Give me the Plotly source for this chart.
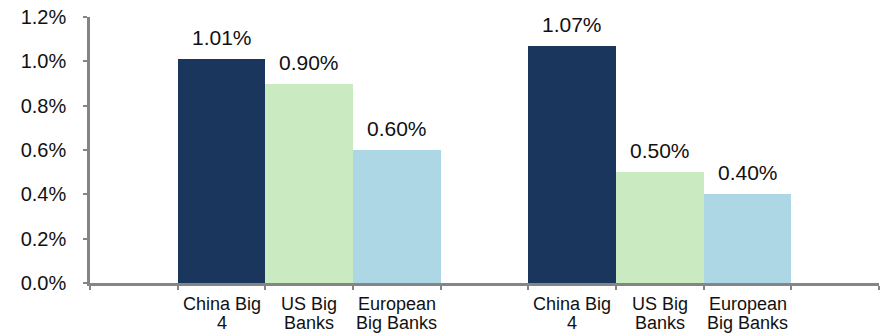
import plotly.graph_objects as go

# Two peer groups of banks, three bars each
label_line1 = ["China Big", "US Big", "European"]
label_line2 = ["4", "Banks", "Big Banks"]
group_a = [1.01, 0.90, 0.60]
group_b = [1.07, 0.50, 0.40]
colors = ["#1B365D", "#CAEAC1", "#ADD7E5"]

y_ticks = [0.0, 0.2, 0.4, 0.6, 0.8, 1.0, 1.2]
y_ticktext = [f"{v:.1f}%" for v in y_ticks]

# Slot positions on a 9-slot axis: an empty slot before, between and after the groups
slots_a = [1.5, 2.5, 3.5]
slots_b = [5.5, 6.5, 7.5]

fig = go.Figure()
for i in range(3):
    fig.add_trace(go.Bar(
        x=[slots_a[i], slots_b[i]],
        y=[group_a[i], group_b[i]],
        width=1.0,
        marker=dict(color=colors[i], line=dict(width=0)),
        showlegend=False,
        hoverinfo="skip",
    ))

text_font = dict(family="Liberation Sans, Arial", color="#111111")

# Value labels above the bars
for xs, vals in ((slots_a, group_a), (slots_b, group_b)):
    for x, v in zip(xs, vals):
        fig.add_annotation(
            x=x, y=v, text=f"{v:.2f}%", showarrow=False,
            yanchor="bottom", yshift=8,
            font=dict(text_font, size=21),
        )

# Two-line category labels under each bar (tight line spacing)
for xs in (slots_a, slots_b):
    for x, l1, l2 in zip(xs, label_line1, label_line2):
        fig.add_annotation(
            x=x, y=0, text=l1, showarrow=False, yanchor="top", yshift=-9,
            font=dict(text_font, size=18),
        )
        fig.add_annotation(
            x=x, y=0, text=l2, showarrow=False, yanchor="top", yshift=-28,
            font=dict(text_font, size=18),
        )

axis_gray = "#858585"
fig.update_layout(
    width=888, height=335,
    margin=dict(l=90, r=9, t=17, b=52),
    paper_bgcolor="white", plot_bgcolor="white",
    font=text_font,
    bargap=0,
    xaxis=dict(
        range=[0, 9], tickvals=list(range(10)), ticktext=[""] * 10,
        showline=True, linecolor=axis_gray, linewidth=2.5,
        ticks="outside", ticklen=4, tickwidth=2, tickcolor=axis_gray,
        showgrid=False, zeroline=False, fixedrange=True, automargin=False,
    ),
    yaxis=dict(
        range=[0, 1.2], tickvals=y_ticks, ticktext=y_ticktext,
        showline=True, linecolor=axis_gray, linewidth=2.5,
        ticks="outside", ticklen=4, tickwidth=2, tickcolor=axis_gray,
        tickfont=dict(size=20, color="#111111"),
        ticklabelstandoff=13,
        showgrid=False, zeroline=False, fixedrange=True, automargin=False,
    ),
)

fig.write_html("out.html")
